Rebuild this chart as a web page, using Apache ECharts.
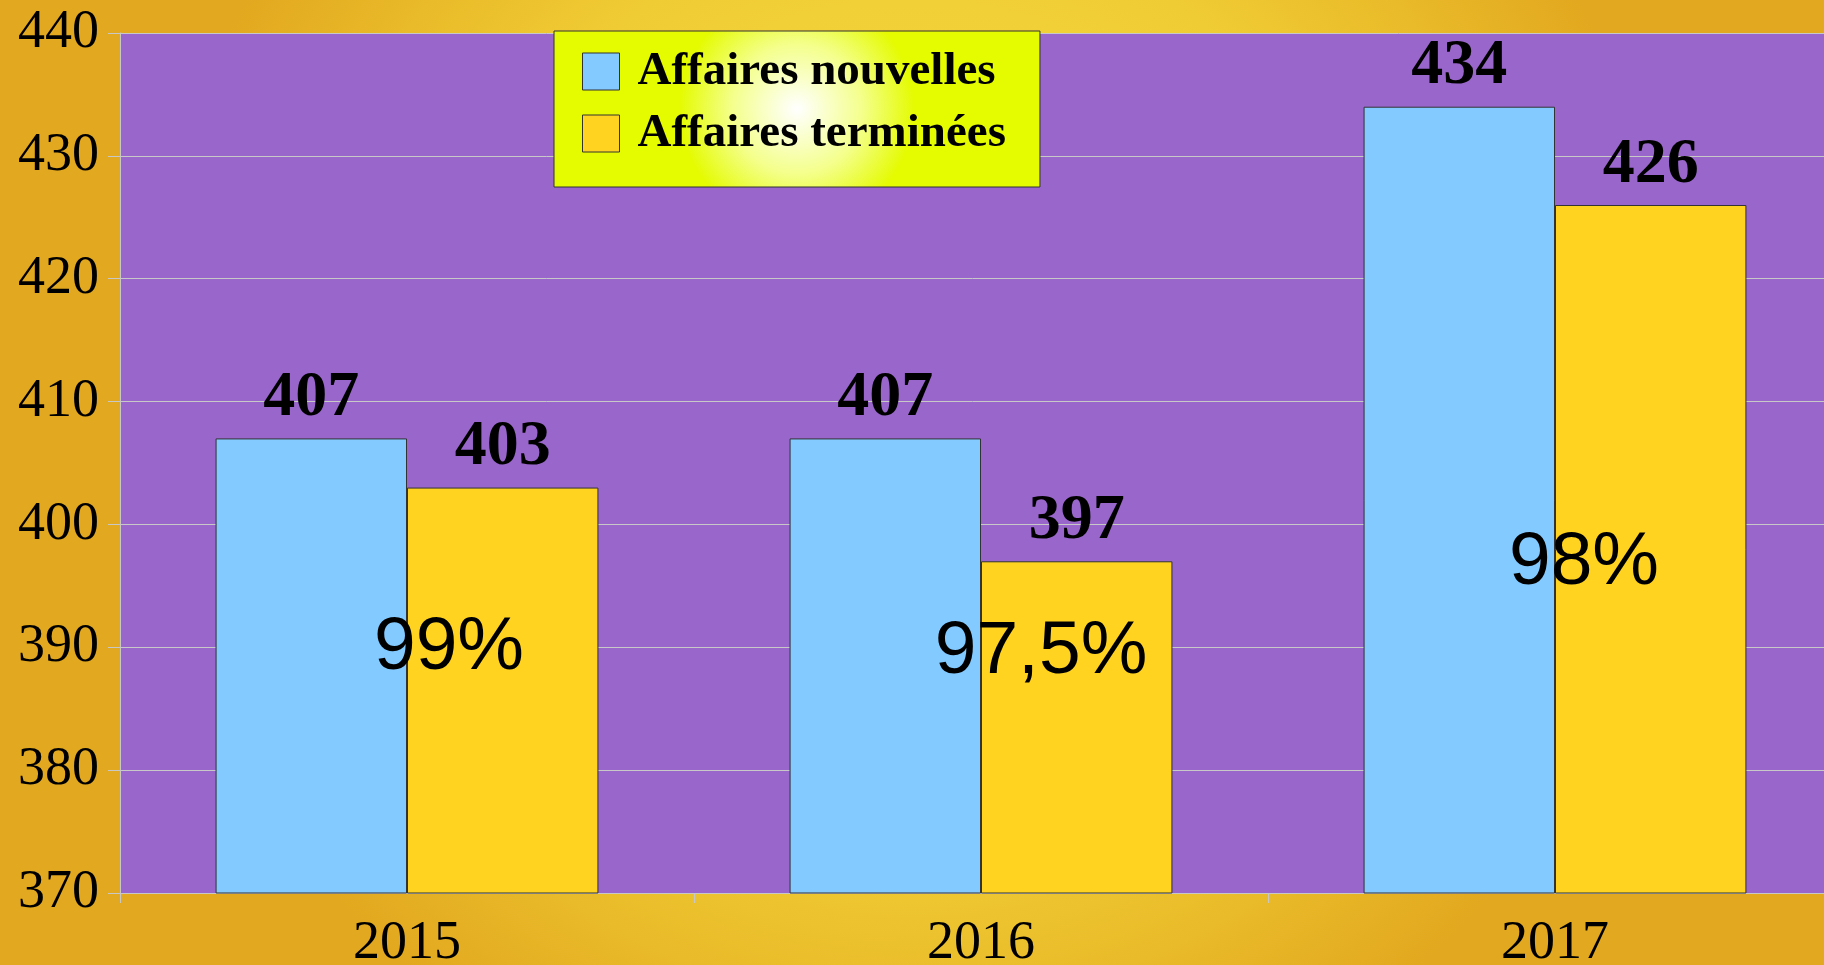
<!DOCTYPE html>
<html lang="fr">
<head>
    <meta charset="UTF-8">
    <title>Affaires</title>
    <style>
        html, body { margin: 0; padding: 0; overflow: hidden; }
        #chart { width: 1824px; height: 965px; }
    </style>
</head>
<body>
<div id="chart"></div>
<script src="https://cdn.jsdelivr.net/npm/echarts@6/dist/echarts.min.js"></script>
<script type="text/javascript">
    // donnees
    var years = ['2015', '2016', '2017'];
    var nouvelles = [407, 407, 434];
    var terminees = [403, 397, 426];
    var taux = ['99%', '97,5%', '98%'];
    var yTicks = [370, 380, 390, 400, 410, 420, 430, 440];

    var serif = '"Liberation Serif", "Times New Roman", serif';
    var sans = '"Liberation Sans", Arial, sans-serif';

    var chart = echarts.init(document.getElementById('chart'));

    var valueLabel = {
        show: true,
        position: 'top',
        distance: 8,
        color: '#000',
        fontFamily: serif,
        fontWeight: 'bold',
        fontSize: 64
    };

    // position des pourcentages (sur l'axe des valeurs)
    var tauxY = [389.9, 389.6, 396.8];
    var tauxDx = [42, 60, 29];

    var option = {
        backgroundColor: {
            type: 'radial', x: 0.5, y: 0.4, r: 0.8,
            colorStops: [
                {offset: 0, color: '#f6de42'},
                {offset: 0.6, color: '#f0cc34'},
                {offset: 1, color: '#e2a81f'}
            ]
        },
        animation: false,
        grid: {
            left: 120, right: -18, top: 33, bottom: 72,
            outerBoundsMode: 'none',
            containLabel: false,
            show: true,
            backgroundColor: '#9966cc',
            borderWidth: 0
        },
        legend: {
            data: ['Affaires nouvelles', 'Affaires terminées'],
            orient: 'vertical',
            left: 554, top: 31,
            padding: [17, 34, 30, 28],
            itemWidth: 37, itemHeight: 37, itemGap: 15,
            icon: 'rect',
            borderColor: '#333', borderWidth: 1,
            backgroundColor: {
                type: 'radial', x: 0.5, y: 0.5, r: 0.75,
                colorStops: [
                    {offset: 0, color: '#ffffff'},
                    {offset: 0.55, color: '#f4ff8c'},
                    {offset: 1, color: '#e4fb00'}
                ]
            },
            itemStyle: {borderColor: '#333', borderWidth: 1},
            textStyle: {
                color: '#000', fontFamily: serif, fontWeight: 'bold',
                fontSize: 47, lineHeight: 37, padding: [0, 0, 0, 13]
            }
        },
        xAxis: {
            type: 'category',
            data: years,
            axisLine: {show: true, lineStyle: {color: '#c8c8c8', width: 1}},
            axisTick: {show: true, length: 10, lineStyle: {color: '#c8c8c8'}},
            axisLabel: {color: '#000', fontFamily: serif, fontSize: 54, margin: 24}
        },
        yAxis: {
            type: 'value',
            min: yTicks[0], max: yTicks[yTicks.length - 1], interval: 10,
            axisLine: {show: true, lineStyle: {color: '#c8c8c8', width: 1}},
            axisTick: {show: true, length: 12, lineStyle: {color: '#c8c8c8'}},
            splitLine: {show: true, lineStyle: {color: '#c8c8c8', width: 1}},
            axisLabel: {color: '#000', fontFamily: serif, fontSize: 54, margin: 21}
        },
        series: [
            {
                name: 'Affaires nouvelles',
                type: 'bar',
                data: nouvelles,
                barGap: '0%',
                barCategoryGap: '33.3%',
                itemStyle: {color: '#82caff', borderColor: '#333', borderWidth: 1},
                label: valueLabel
            },
            {
                name: 'Affaires terminées',
                type: 'bar',
                data: terminees,
                itemStyle: {color: '#ffd320', borderColor: '#333', borderWidth: 1},
                label: valueLabel
            },
            {
                name: 'taux',
                type: 'scatter',
                symbolSize: 1,
                itemStyle: {color: 'rgba(0,0,0,0)', opacity: 1},
                silent: true,
                data: years.map(function (y, i) {
                    return {
                        value: [y, tauxY[i]],
                        label: {
                            show: true,
                            position: 'inside',
                            offset: [tauxDx[i], 0],
                            formatter: taux[i],
                            color: '#000',
                            opacity: 1,
                            textBorderWidth: 0,
                            fontFamily: sans,
                            fontSize: 75
                        }
                    };
                }),
                z: 10
            }
        ]
    };
    chart.setOption(option);
</script>
</body>
</html>
